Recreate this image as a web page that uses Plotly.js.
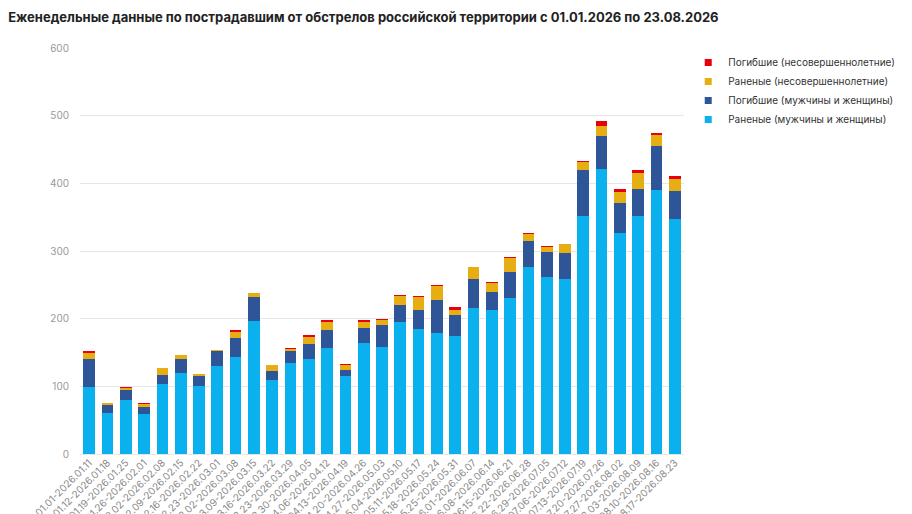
<!DOCTYPE html>
<html>
<head>
<meta charset="utf-8">
<script src="https://cdn.plot.ly/plotly-3.0.1.min.js"></script>
<style>
  html, body { margin: 0; padding: 0; background: #fff; }
  #chart { width: 912px; height: 514px; }
</style>
</head>
<body>
<div id="chart"></div>
<script>
// ─── Data ───
const weeks = [
  "2026.01.01-2026.01.11", "2026.01.12-2026.01.18", "2026.01.19-2026.01.25",
  "2026.01.26-2026.02.01", "2026.02.02-2026.02.08", "2026.02.09-2026.02.15",
  "2026.02.16-2026.02.22", "2026.02.23-2026.03.01", "2026.03.02-2026.03.08",
  "2026.03.09-2026.03.15", "2026.03.16-2026.03.22", "2026.03.23-2026.03.29",
  "2026.03.30-2026.04.05", "2026.04.06-2026.04.12", "2026.04.13-2026.04.19",
  "2026.04.20-2026.04.26", "2026.04.27-2026.05.03", "2026.05.04-2026.05.10",
  "2026.05.11-2026.05.17", "2026.05.18-2026.05.24", "2026.05.25-2026.05.31",
  "2026.06.01-2026.06.07", "2026.06.08-2026.06.14", "2026.06.15-2026.06.21",
  "2026.06.22-2026.06.28", "2026.06.29-2026.07.05", "2026.07.06-2026.07.12",
  "2026.07.13-2026.07.19", "2026.07.20-2026.07.26", "2026.07.27-2026.08.02",
  "2026.08.03-2026.08.09", "2026.08.10-2026.08.16", "2026.08.17-2026.08.23",
];

const woundedAdults = [99, 61, 80, 59, 104, 120, 101, 130, 144, 196, 109, 134, 140, 157, 115, 164, 158,
  195, 185, 179, 174, 216, 213, 230, 276, 262, 259, 352, 421, 326, 352, 390, 348];
const killedAdults = [41, 11, 15, 11, 13, 21, 15, 22, 28, 36, 14, 18, 23, 26, 9, 22, 32,
  25, 28, 49, 31, 42, 27, 39, 39, 36, 38, 67, 49, 45, 39, 65, 41];
const woundedMinors = [9, 3, 3, 4, 10, 5, 2, 1, 9, 6, 9, 3, 10, 12, 7, 9, 8,
  14, 19, 21, 8, 18, 12, 20, 10, 8, 14, 12, 15, 16, 24, 16, 17];
const killedMinors = [3, 0, 1, 1, 0, 0, 0, 0, 2, 0, 0, 2, 3, 3, 2, 3, 2,
  1, 2, 1, 4, 0, 2, 2, 2, 2, 0, 2, 7, 4, 4, 3, 5];

const yTicks = [0, 100, 200, 300, 400, 500, 600];

const series = [
  { name: "Раненые (мужчины и женщины)", y: woundedAdults, color: "#0BB0EE" },
  { name: "Погибшие (мужчины и женщины)", y: killedAdults, color: "#2E5597" },
  { name: "Раненые (несовершеннолетние)", y: woundedMinors, color: "#E6AE12" },
  { name: "Погибшие (несовершеннолетние)", y: killedMinors, color: "#E8000E" },
];

const FONT = "Inter, 'Noto Sans', sans-serif";

// stacked bars (legend drawn by small square markers below)
const traces = series.map((s) => ({
  type: "bar",
  x: weeks,
  y: s.y,
  name: s.name,
  marker: { color: s.color, line: { width: 0 } },
  showlegend: false,
  hoverinfo: "x+y+name",
}));

// legend-only entries with small square swatches
series.forEach((s) => {
  traces.push({
    type: "scatter",
    mode: "markers",
    x: [null],
    y: [null],
    name: s.name,
    marker: { color: s.color, symbol: "square", size: 7 },
    hoverinfo: "skip",
  });
});

const layout = {
  width: 912,
  height: 514,
  paper_bgcolor: "#fff",
  plot_bgcolor: "#fff",
  font: { family: FONT, size: 10, color: "#888" },
  title: {
    text: "<b>Еженедельные данные по пострадавшим от обстрелов российской территории с 01.01.2026 по 23.08.2026</b>",
    font: { family: FONT, size: 13, color: "#222" },
    x: 0.009,
    xanchor: "left",
    y: 0.966,
    yanchor: "middle",
  },
  barmode: "stack",
  bargap: 0.36,
  margin: { l: 80, r: 209, t: 48, b: 60 },
  xaxis: {
    type: "category",
    tickangle: -45,
    tickfont: { family: FONT, size: 10, color: "#8a8a8a" },
    showgrid: false,
    showline: false,
    ticks: "",
    automargin: false,
    fixedrange: true,
  },
  yaxis: {
    range: [0, 600],
    tickvals: yTicks,
    tickfont: { family: FONT, size: 10, color: "#999" },
    gridcolor: "#e6e6e6",
    gridwidth: 1,
    zeroline: true,
    zerolinecolor: "#e6e6e6",
    showline: false,
    ticks: "",
    ticklabelstandoff: 10,
    automargin: false,
    fixedrange: true,
  },
  legend: {
    x: 1.007,
    xanchor: "left",
    y: 1.0,
    yanchor: "top",
    traceorder: "reversed",
    font: { family: FONT, size: 10, color: "#333" },
    itemwidth: 30,
    tracegroupgap: 0,
    bgcolor: "rgba(0,0,0,0)",
  },
  showlegend: true,
};

Plotly.newPlot("chart", traces, layout, { displayModeBar: false, staticPlot: true });
</script>
</body>
</html>
